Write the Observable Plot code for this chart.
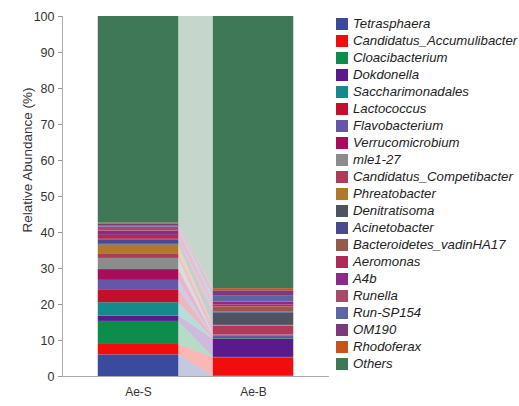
<!DOCTYPE html>
<html>
<head>
<meta charset="utf-8">
<script src="https://cdn.jsdelivr.net/npm/d3@7"></script>
<script src="https://cdn.jsdelivr.net/npm/@observablehq/plot@0.6"></script>
<style>
  body { margin: 0; background: #fff; font-family: "Liberation Sans", Arial, sans-serif; }
  #wrap { position: relative; width: 519px; height: 406px; overflow: hidden; }
  #ylabel {
    position: absolute; left: 27px; top: 160px;
    transform: translate(-50%, -50%) rotate(-90deg);
    white-space: nowrap; font-size: 13.5px; color: #333;
  }
  #legend { position: absolute; left: 336px; top: 15px; width: 190px; }
  .row { display: flex; align-items: center; height: 17px; white-space: nowrap; }
  .sw { width: 12px; height: 12px; margin-right: 5px; flex: none; }
  .lab { font-size: 13.2px; font-style: italic; color: #222; line-height: 12px; }
</style>
</head>
<body>
<div id="wrap"></div>
<script>
// Samples and taxa (genus level), stacked bottom to top in this order
const samples = ["Ae-S", "Ae-B"];
const taxa = [
  "Tetrasphaera", "Candidatus_Accumulibacter", "Cloacibacterium", "Dokdonella",
  "Saccharimonadales", "Lactococcus", "Flavobacterium", "Verrucomicrobium",
  "mle1-27", "Candidatus_Competibacter", "Phreatobacter", "Denitratisoma",
  "Acinetobacter", "Bacteroidetes_vadinHA17", "Aeromonas", "A4b", "Runella",
  "Run-SP154", "OM190", "Rhodoferax", "Others"
];
const colors = [
  "#3a4a9c", "#f20d0d", "#0d8c4c", "#5a1a8c", "#158a8a", "#c40f2c",
  "#6656a8", "#a80d5c", "#8c8c8c", "#b03a58", "#b0782c", "#4f5260",
  "#474a8c", "#955a4c", "#b02a58", "#8c2a88", "#a84a6a", "#5c66a2",
  "#7a3a7c", "#c8541a", "#3e7856"
];
// Relative abundance (%) per taxon
const aeS = [6.0, 2.9, 6.4, 1.5, 3.7, 3.6, 2.6, 3.0, 3.1, 1.1, 2.6,
             0.4, 0.9, 0.3, 1.1, 1.2, 1.1, 0.4, 0.5, 0.2, 57.4];
const aeB = [0.2, 5.0, 0.1, 5.0, 0.2, 0.3, 0.3, 0.2, 0.2, 2.5, 0.2,
             3.4, 0.3, 1.4, 0.6, 0.7, 0.2, 1.5, 1.5, 0.6, 75.6];
const yTicks = [0, 10, 20, 30, 40, 50, 60, 70, 80, 90, 100];

const halfWidth = 0.35;

// Cumulative stacks for each sample
const rows = [];
samples.forEach((s, i) => {
  const vals = i === 0 ? aeS : aeB;
  let acc = 0;
  taxa.forEach((t, k) => {
    rows.push({sample: s, pos: i, taxon: t, y1: acc, y2: acc + vals[k]});
    acc += vals[k];
  });
});

// Ribbons linking each taxon's segment between the two bars
const ribbons = [];
taxa.forEach(t => {
  const a = rows.find(r => r.pos === 0 && r.taxon === t);
  const b = rows.find(r => r.pos === 1 && r.taxon === t);
  ribbons.push({taxon: t, x: a.pos + halfWidth, y1: a.y1, y2: a.y2});
  ribbons.push({taxon: t, x: b.pos - halfWidth, y1: b.y1, y2: b.y2});
});

const chart = Plot.plot({
  width: 519,
  height: 406,
  marginLeft: 62,
  marginRight: 191,
  marginTop: 16,
  marginBottom: 30,
  style: {fontFamily: "'Liberation Sans', Arial, sans-serif", background: "transparent"},
  x: {type: "linear", domain: [-0.661, 1.652], axis: null},
  y: {domain: [0, 100], axis: null},
  color: {domain: taxa, range: colors},
  marks: [
    Plot.area(ribbons, {x1: "x", y1: "y1", y2: "y2", z: "taxon", fill: "taxon", fillOpacity: 0.3}),
    Plot.rect(rows, {
      x1: d => d.pos - halfWidth, x2: d => d.pos + halfWidth,
      y1: "y1", y2: "y2", fill: "taxon"
    }),
    Plot.axisY({ticks: yTicks, tickSize: 4, tickPadding: 4, fontSize: 12.5, stroke: "#999", color: "#333", label: null}),
    Plot.axisX({ticks: [0, 1], tickFormat: i => samples[i], tickSize: 0, tickPadding: 11, fontSize: 12, color: "#333", label: null}),
    Plot.frame({anchor: "left", stroke: "#aaa"}),
    Plot.frame({anchor: "bottom", stroke: "#aaa"})
  ]
});

const wrap = document.getElementById("wrap");
wrap.appendChild(chart);

const yl = document.createElement("div");
yl.id = "ylabel";
yl.textContent = "Relative Abundance (%)";
wrap.appendChild(yl);

const legend = document.createElement("div");
legend.id = "legend";
taxa.forEach((t, k) => {
  const row = document.createElement("div");
  row.className = "row";
  const sw = document.createElement("div");
  sw.className = "sw";
  sw.style.background = colors[k];
  const lab = document.createElement("span");
  lab.className = "lab";
  lab.textContent = t;
  row.appendChild(sw);
  row.appendChild(lab);
  legend.appendChild(row);
});
wrap.appendChild(legend);
</script>
</body>
</html>
